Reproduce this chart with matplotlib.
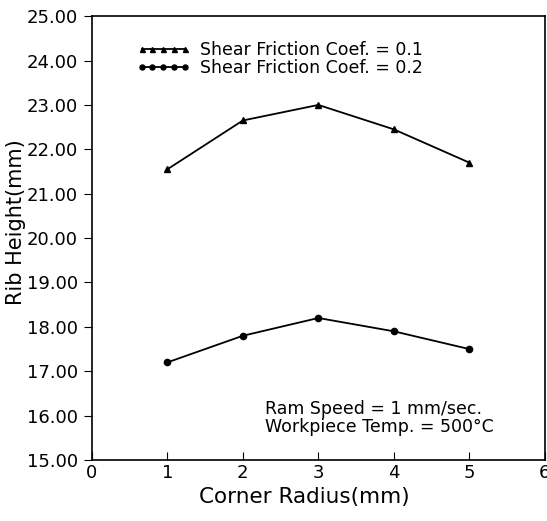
import matplotlib
matplotlib.use('Agg')
import matplotlib.pyplot as plt
from matplotlib.ticker import FormatStrFormatter

# corner radius (mm) and resulting rib height (mm)
radius = [1, 2, 3, 4, 5]
height_mu01 = [21.55, 22.65, 23.0, 22.45, 21.7]
height_mu02 = [17.2, 17.8, 18.2, 17.9, 17.5]

plt.rcParams['font.family'] = ['DejaVu Sans']

fig = plt.figure(figsize=(5.47, 5.21), dpi=100)
ax = fig.add_axes([0.168, 0.117, 0.828, 0.852])

ax.plot(radius, height_mu01, color='black', lw=1.3, marker='^', ms=4.5,
        label='Shear Friction Coef. = 0.1')
ax.plot(radius, height_mu02, color='black', lw=1.3, marker='o', ms=4.5,
        label='Shear Friction Coef. = 0.2')

ax.set_xlim(0, 6)
ax.set_ylim(15, 25)
ax.set_xticks(range(0, 7))
ax.set_yticks([15 + i for i in range(11)])
ax.yaxis.set_major_formatter(FormatStrFormatter('%.2f'))
ax.tick_params(axis='x', direction='in', length=6, labelsize=13, pad=3)
ax.tick_params(axis='y', direction='out', length=6, labelsize=13, pad=4)
for s in ax.spines.values():
    s.set_linewidth(1.2)

ax.set_xlabel('Corner Radius(mm)', fontsize=15.5)
ax.xaxis.set_label_coords(0.47, -0.06)
ax.set_ylabel('Rib Height(mm)', fontsize=15)
ax.yaxis.set_label_coords(-0.145, 0.535)

ax.legend(loc='upper left', bbox_to_anchor=(0.083, 0.96), frameon=False,
          numpoints=5, handlelength=3.1, handletextpad=0.55, fontsize=12.5,
          labelspacing=0.0, borderaxespad=0, markerscale=0.8)

ax.text(0.382, 0.055, 'Ram Speed = 1 mm/sec.\nWorkpiece Temp. = 500°C',
        transform=ax.transAxes, fontsize=12.5, linespacing=0.95, va='bottom')

fig.savefig('out.png', dpi=100)
